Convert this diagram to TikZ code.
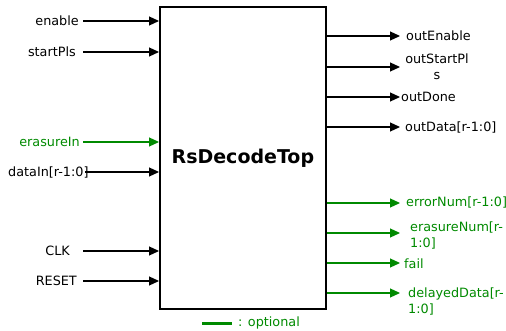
\documentclass[tikz,border=0pt]{standalone}
\usepackage{fontspec}
\setmainfont{DejaVu Sans}
\usetikzlibrary{arrows.meta}
\definecolor{optgreen}{HTML}{008A00}
\begin{document}
\begin{tikzpicture}[x=1pt,y=-1pt,
  lbl/.style={inner sep=0pt,font=\fontsize{12.8}{16}\selectfont},
  sig/.style={line width=1.2pt,-{Triangle[length=10pt,width=9pt]}},
  opt/.style={sig,draw=optgreen,fill=optgreen},
  optlbl/.style={lbl,text=optgreen}]
\useasboundingbox (0,0) rectangle (506,331);

% decoder block
\node[draw,line width=1.8pt,minimum width=166pt,minimum height=302pt,inner sep=0pt,anchor=north west,
      font=\bfseries\fontsize{19}{22}\selectfont] (top) at (159,6) {RsDecodeTop};

% inputs
\node[lbl,anchor=east] (enable) at (79,21) {enable};
\node[lbl,anchor=east] (startPls) at (76,52) {startPls};
\node[optlbl,anchor=east] (erasureIn) at (80,142) {erasureIn};
\node[lbl,anchor=west] (dataIn) at (8,172) {dataIn[r-1:0]};
\coordinate (dataInStart) at (85,172);
\node[lbl,anchor=east] (clk) at (70,251) {CLK};
\node[lbl,anchor=east] (reset) at (77,281) {RESET};

\draw[sig] ([xshift=4pt]enable.east) -- (enable.east -| top.west);
\draw[sig] ([xshift=7pt]startPls.east) -- (startPls.east -| top.west);
\draw[opt] ([xshift=3pt]erasureIn.east) -- (erasureIn.east -| top.west);
\draw[sig] (dataInStart) -- (dataInStart -| top.west);
\draw[sig] ([xshift=13pt]clk.east) -- (clk.east -| top.west);
\draw[sig] ([xshift=6pt]reset.east) -- (reset.east -| top.west);

% outputs
\coordinate (oEn) at (400,36);
\coordinate (oSt) at (400,67);
\coordinate (oDo) at (400,97);
\coordinate (oDa) at (400,127);
\coordinate (oEr) at (400,203);
\coordinate (oEs) at (400,233);
\coordinate (oFa) at (400,263);
\coordinate (oDe) at (400,293);

\draw[sig] (oEn -| top.east) -- (oEn);
\draw[sig] (oSt -| top.east) -- (oSt);
\draw[sig] (oDo -| top.east) -- (oDo);
\draw[sig] (oDa -| top.east) -- (oDa);
\draw[opt] (oEr -| top.east) -- (oEr);
\draw[opt] (oEs -| top.east) -- (oEs);
\draw[opt] (oFa -| top.east) -- (oFa);
\draw[opt] (oDe -| top.east) -- (oDe);

\node[lbl,anchor=west] (outEnable) at (406,36) {outEnable};
\node[lbl,align=center] (outStartPls) at (437,67) {outStartPl\\s};
\node[lbl,anchor=west] (outDone) at (401,97) {outDone};
\node[lbl,anchor=west] (outData) at (405,127) {outData[r-1:0]};
\node[optlbl,anchor=west] (errorNum) at (406,202) {errorNum[r-1:0]};
\node[optlbl,anchor=west,align=left] (erasureNum) at (410,235) {erasureNum[r-\\1:0]};
\node[optlbl,anchor=west] (fail) at (404,264) {fail};
\node[optlbl,anchor=west,align=left] (delayedData) at (408,301) {delayedData[r-\\1:0]};

% legend
\coordinate (legA) at (202,323);
\coordinate (legB) at (232,323);
\draw[optgreen,line width=3pt] (legA) -- (legB);
\node[optlbl,anchor=west] (legend) at (238,323) {: optional};
\end{tikzpicture}
\end{document}
